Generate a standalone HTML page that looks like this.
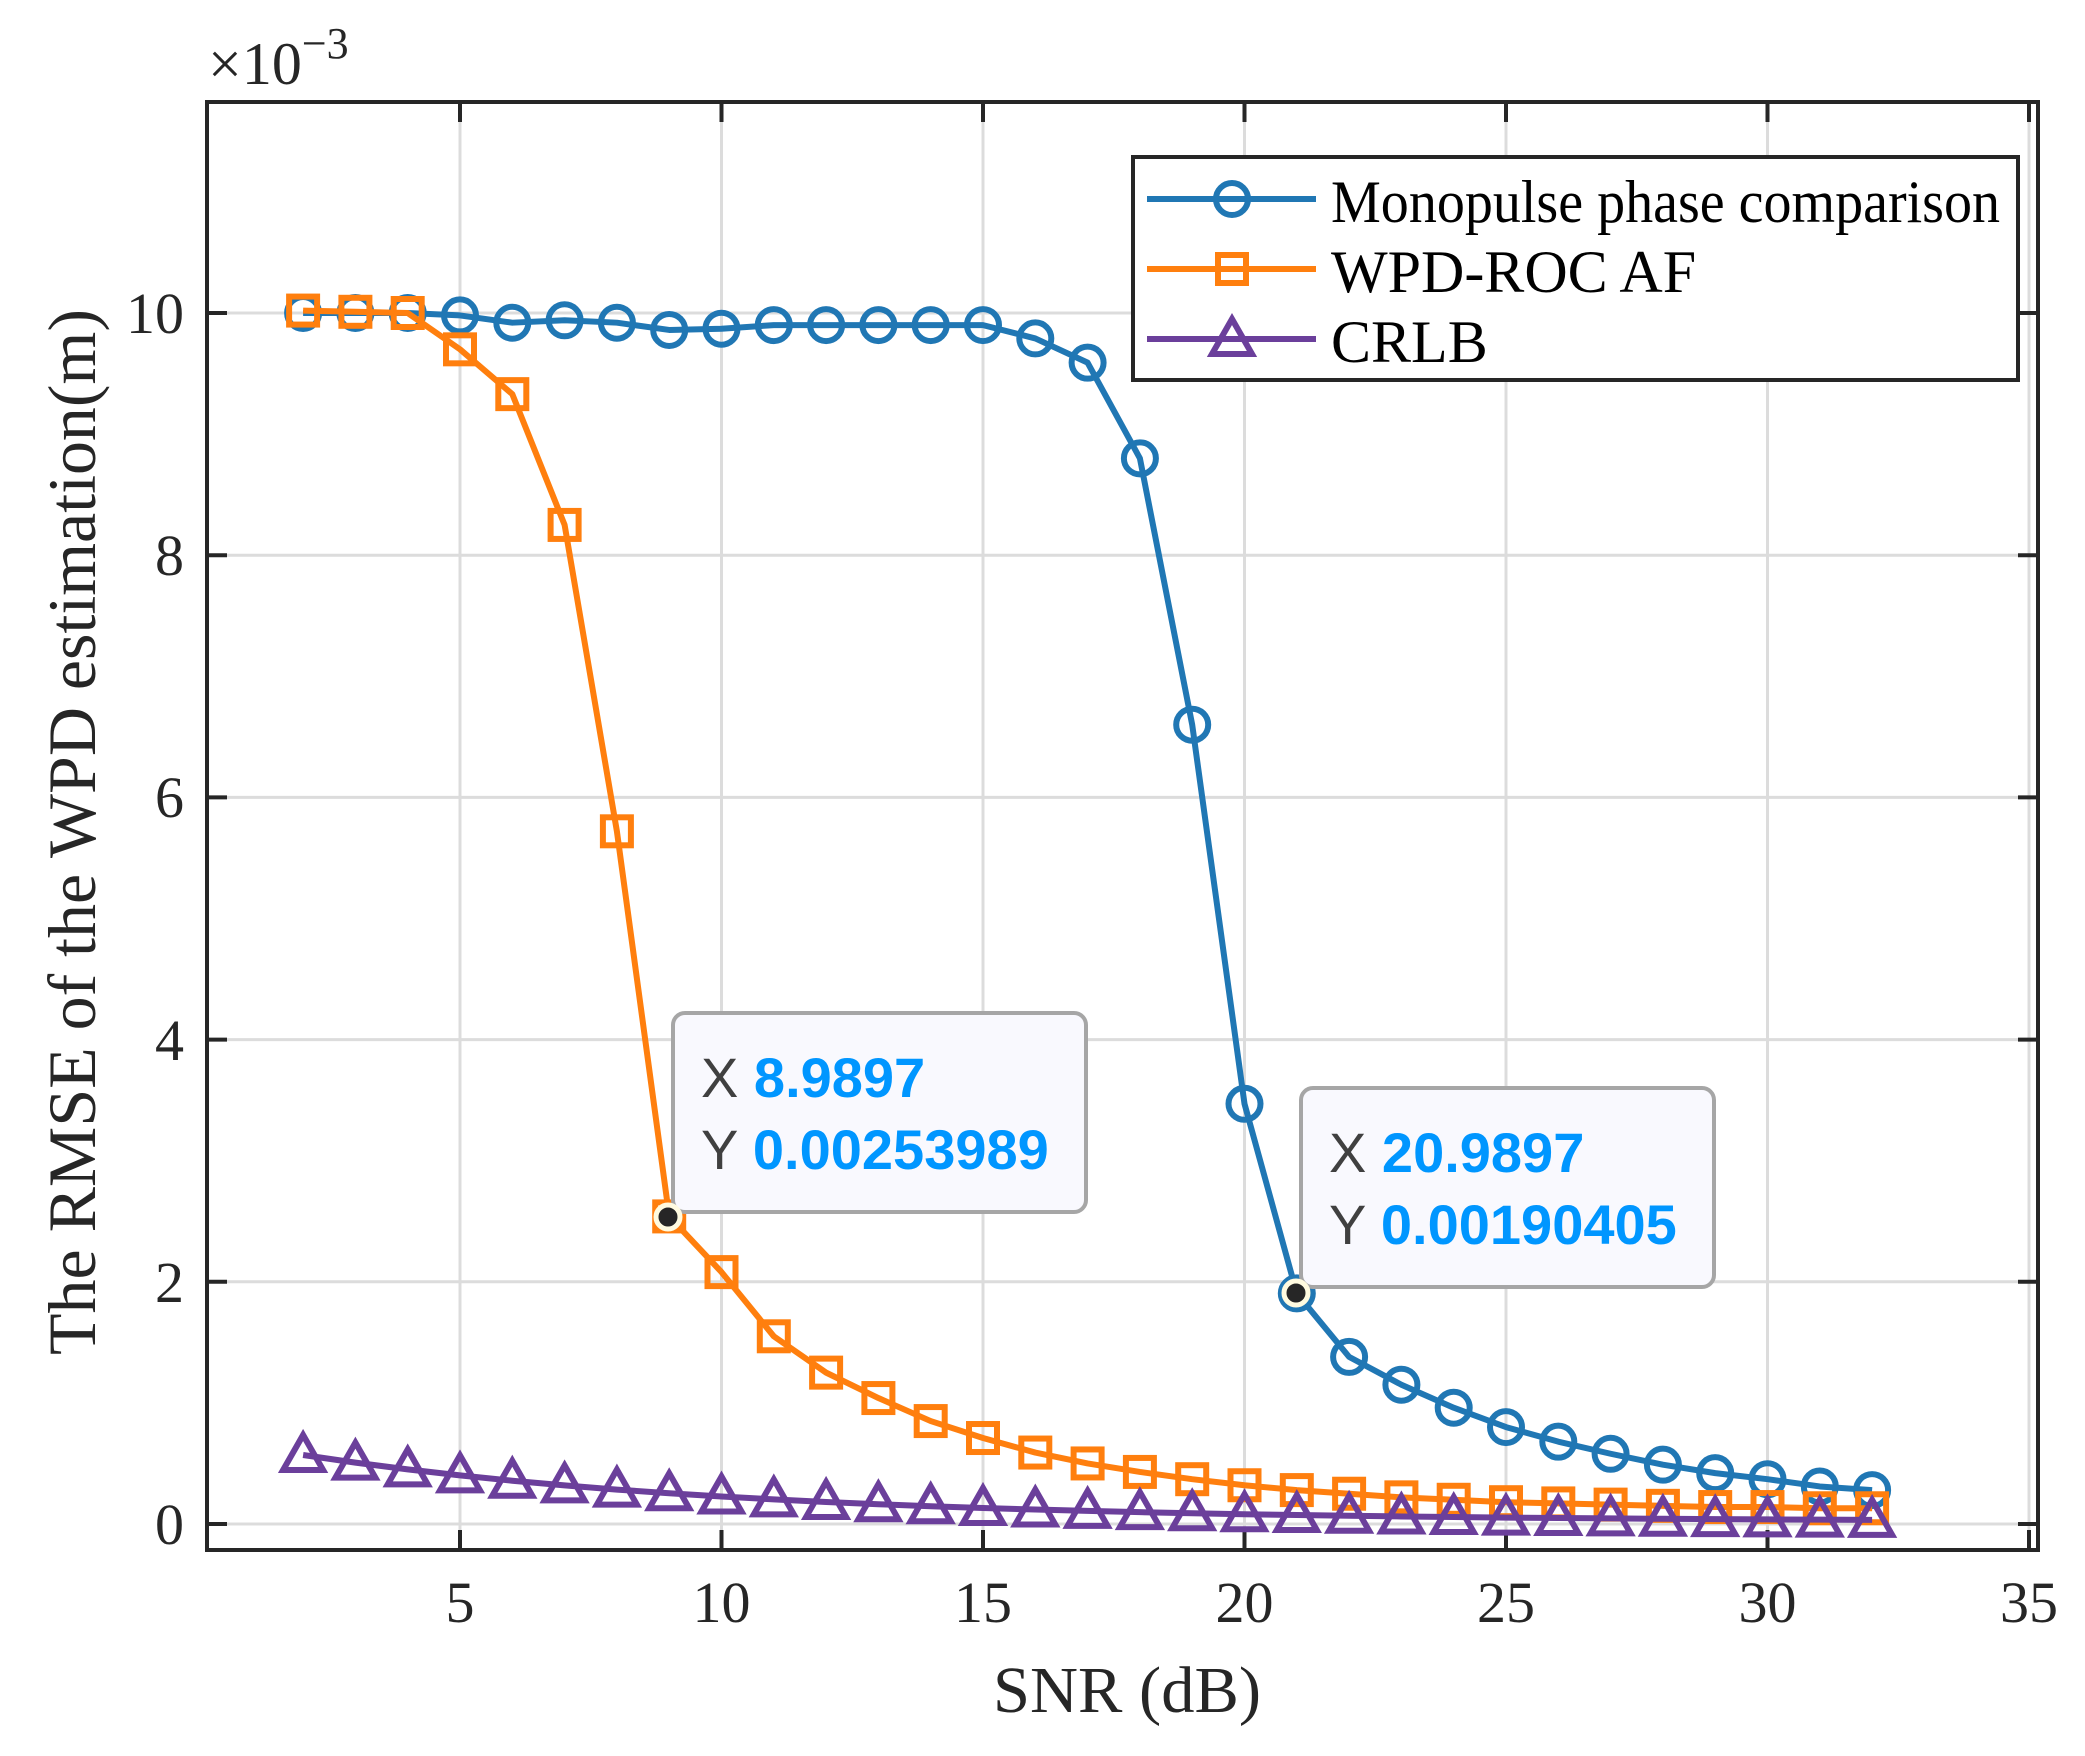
<!DOCTYPE html>
<html><head><meta charset="utf-8"><style>
html,body{margin:0;padding:0;background:#fff;}
svg{display:block;}
</style></head><body>
<svg id="s" xmlns="http://www.w3.org/2000/svg" width="2085" height="1756" viewBox="0 0 2085 1756">
<rect width="2085" height="1756" fill="#fff"/>
<g id="grid" stroke="#dcdcdc" stroke-width="3"></g>
<g id="ticks" stroke="#262626" stroke-width="4"></g>
<g id="series"></g>
<rect x="207" y="102" width="1831" height="1448" fill="none" stroke="#262626" stroke-width="4"/>
<g font-family="Liberation Serif, serif" font-size="58" fill="#262626">
<text x="460" y="1622" text-anchor="middle">5</text>
<text x="721.5" y="1622" text-anchor="middle">10</text>
<text x="983" y="1622" text-anchor="middle">15</text>
<text x="1244.5" y="1622" text-anchor="middle">20</text>
<text x="1506" y="1622" text-anchor="middle">25</text>
<text x="1767.5" y="1622" text-anchor="middle">30</text>
<text x="2029" y="1622" text-anchor="middle">35</text>
<text x="184" y="1544" text-anchor="end">0</text>
<text x="184" y="1302" text-anchor="end">2</text>
<text x="184" y="1060" text-anchor="end">4</text>
<text x="184" y="817" text-anchor="end">6</text>
<text x="184" y="575" text-anchor="end">8</text>
<text x="184" y="333" text-anchor="end">10</text>
<text x="208" y="84" font-size="60">×10<tspan font-size="44" dy="-26">−3</tspan></text>
<text x="1127" y="1712" font-size="66" text-anchor="middle" textLength="268" lengthAdjust="spacingAndGlyphs">SNR (dB)</text>
<text transform="translate(95,832) rotate(-90)" font-size="68" text-anchor="middle" textLength="1046" lengthAdjust="spacingAndGlyphs">The RMSE of the WPD estimation(m)</text>
</g>
<g id="legend">
<rect x="1133" y="157" width="885" height="223" fill="#fff" stroke="#262626" stroke-width="4"/>
<g font-family="Liberation Serif, serif" font-size="60" fill="#000">
<text x="1331" y="222" textLength="669" lengthAdjust="spacingAndGlyphs">Monopulse phase comparison</text>
<text x="1331" y="292">WPD-ROC AF</text>
<text x="1331" y="362">CRLB</text>
</g>
</g>
<g id="tips" font-family="Liberation Sans, sans-serif" font-size="56">
<rect x="673" y="1013" width="413" height="199" rx="12" fill="#f9f9fe" stroke="#a6a6a6" stroke-width="4"/>
<text x="701" y="1097" fill="#404040">X <tspan fill="#0096ff" font-weight="bold">8.9897</tspan></text>
<text x="701" y="1169" fill="#404040">Y <tspan fill="#0096ff" font-weight="bold">0.00253989</tspan></text>
<rect x="1301" y="1088" width="413" height="199" rx="12" fill="#f9f9fe" stroke="#a6a6a6" stroke-width="4"/>
<text x="1329" y="1172" fill="#404040">X <tspan fill="#0096ff" font-weight="bold">20.9897</tspan></text>
<text x="1329" y="1244" fill="#404040">Y <tspan fill="#0096ff" font-weight="bold">0.00190405</tspan></text>
<circle cx="668" cy="1217" r="12" fill="#262626" stroke="#fffbe0" stroke-width="5"/>
<circle cx="1296" cy="1293" r="12" fill="#262626" stroke="#fffbe0" stroke-width="5"/>
</g>
</svg>
<script>
var NS="http://www.w3.org/2000/svg";
function X(x){return 198.5+52.3*x;}
function Y(y){return 1524-121.1*y;}
function el(p,t,a){var e=document.createElementNS(NS,t);for(var k in a)e.setAttribute(k,a[k]);p.appendChild(e);return e;}
var g=document.getElementById('grid'),tk=document.getElementById('ticks');
for(var x=5;x<=35;x+=5){el(g,'line',{x1:X(x),x2:X(x),y1:104,y2:1548});
 el(tk,'line',{x1:X(x),x2:X(x),y1:1550,y2:1530});el(tk,'line',{x1:X(x),x2:X(x),y1:102,y2:122});}
for(var y=0;y<=10;y+=2){el(g,'line',{x1:209,x2:2036,y1:Y(y),y2:Y(y)});
 el(tk,'line',{x1:207,x2:227,y1:Y(y),y2:Y(y)});el(tk,'line',{x1:2038,x2:2018,y1:Y(y),y2:Y(y)});}
var blue=[10.0,10.0,10.0,9.98,9.92,9.94,9.92,9.86,9.87,9.9,9.9,9.9,9.9,9.9,9.79,9.59,8.8,6.6,3.47,1.904,1.38,1.15,0.96,0.80,0.68,0.58,0.49,0.42,0.37,0.31,0.28];
var orange=[10.02,10.01,10.0,9.7,9.33,8.25,5.72,2.54,2.08,1.55,1.25,1.04,0.85,0.71,0.59,0.50,0.43,0.37,0.32,0.28,0.25,0.22,0.20,0.18,0.17,0.16,0.15,0.14,0.14,0.13,0.13];
var purple=[];for(var i=0;i<31;i++)purple.push(0.02+0.55*Math.pow(0.885,i));
var S=document.getElementById('series');
function draw(d,c,m){var pts=d.map(function(v,i){return X(i+2)+','+Y(v);}).join(' ');
 el(S,'polyline',{points:pts,fill:'none',stroke:c,'stroke-width':6,'stroke-linejoin':'round'});
 d.forEach(function(v,i){mark(S,m,X(i+2),Y(v),c);});}
function mark(p,m,cx,cy,c){
 if(m=='o')el(p,'circle',{cx:cx,cy:cy,r:16,fill:'none',stroke:c,'stroke-width':6});
 else if(m=='s')el(p,'rect',{x:cx-14,y:cy-14,width:28,height:28,fill:'none',stroke:c,'stroke-width':6});
 else el(p,'polygon',{points:cx+','+(cy-20)+' '+(cx+20)+','+(cy+15)+' '+(cx-20)+','+(cy+15),fill:'none',stroke:c,'stroke-width':6});}
draw(blue,'#2077b4','o');draw(orange,'#ff7f0e','s');draw(purple,'#6b3f9b','t');
var L=document.getElementById('legend');
[[199,'#2077b4','o'],[269,'#ff7f0e','s'],[339,'#6b3f9b','t']].forEach(function(r){
 el(L,'line',{x1:1147,x2:1316,y1:r[0],y2:r[0],stroke:r[1],'stroke-width':6});mark(L,r[2],1232,r[0],r[1]);});
var s=document.getElementById('s');s.appendChild(document.getElementById('tips'));
</script>
</body></html>
